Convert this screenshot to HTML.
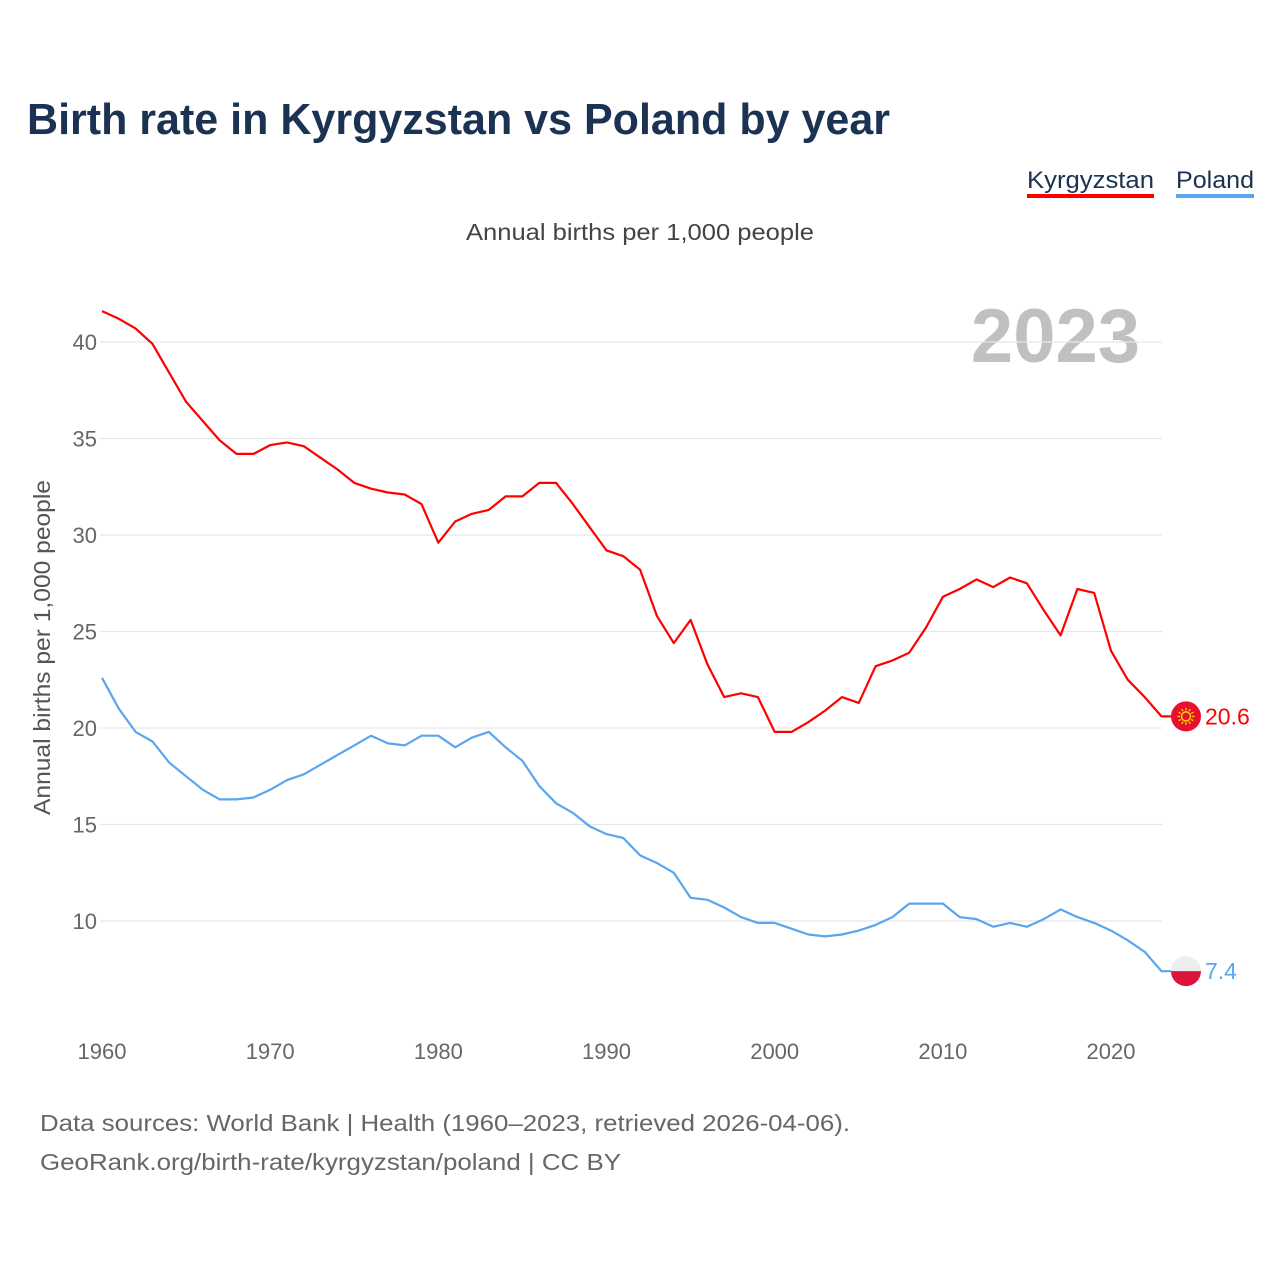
<!DOCTYPE html>
<html><head><meta charset="utf-8"><style>
body{margin:0;background:#fff;font-family:"Liberation Sans",sans-serif;}
</style></head><body>
<svg id="chart" width="1280" height="1280" xmlns="http://www.w3.org/2000/svg" style="display:block">
<rect width="1280" height="1280" fill="#fff"/>
<text x="27" y="134" font-size="44" font-weight="bold" fill="#1b3252" textLength="863" lengthAdjust="spacingAndGlyphs">Birth rate in Kyrgyzstan vs Poland by year</text>
<g><text x="1027" y="188" font-size="24" fill="#1b3252" textLength="127" lengthAdjust="spacingAndGlyphs">Kyrgyzstan</text><rect x="1027" y="194" width="127" height="4" fill="#ff0000"/></g>
<g><text x="1176" y="188" font-size="24" fill="#1b3252" textLength="78" lengthAdjust="spacingAndGlyphs">Poland</text><rect x="1176" y="194" width="78" height="4" fill="#5aa6ee"/></g>
<text x="466" y="240" font-size="23" fill="#444" textLength="348" lengthAdjust="spacingAndGlyphs">Annual births per 1,000 people</text>
<text x="1140" y="362" font-size="76" font-weight="bold" fill="#c0c0c0" text-anchor="end">2023</text>
<text transform="translate(50,815) rotate(-90)" font-size="23" fill="#555" textLength="335" lengthAdjust="spacingAndGlyphs">Annual births per 1,000 people</text>
<g id="grid"></g><g id="series"></g>
<text x="40" y="1131" font-size="23" fill="#666" textLength="810" lengthAdjust="spacingAndGlyphs">Data sources: World Bank | Health (1960–2023, retrieved 2026-04-06).</text>
<text x="40" y="1170" font-size="23" fill="#666" textLength="581" lengthAdjust="spacingAndGlyphs">GeoRank.org/birth-rate/kyrgyzstan/poland | CC BY</text>
</svg>
<script>
const years=[];for(let y=1960;y<=2023;y++)years.push(y);
const kyrgyzstan=[41.6,41.2,40.7,39.9,38.4,36.9,35.9,34.9,34.2,34.2,34.66,34.8,34.6,34.0,33.4,32.7,32.4,32.2,32.1,31.6,29.6,30.7,31.1,31.3,32.0,32.0,32.7,32.7,31.6,30.4,29.2,28.9,28.2,25.8,24.4,25.6,23.3,21.6,21.8,21.6,19.8,19.8,20.3,20.9,21.6,21.3,23.2,23.5,23.9,25.2,26.8,27.2,27.7,27.3,27.8,27.5,26.1,24.8,27.2,27.0,24.0,22.5,21.6,20.6];
const poland=[22.6,21.0,19.8,19.3,18.2,17.5,16.8,16.3,16.3,16.4,16.8,17.3,17.6,18.1,18.6,19.1,19.6,19.2,19.1,19.6,19.6,19.0,19.5,19.8,19.0,18.3,17.0,16.1,15.6,14.9,14.5,14.3,13.4,13.0,12.5,11.2,11.1,10.7,10.2,9.9,9.9,9.6,9.3,9.2,9.3,9.5,9.8,10.2,10.9,10.9,10.9,10.2,10.1,9.7,9.9,9.7,10.1,10.6,10.2,9.9,9.5,9.0,8.4,7.4];
const yTicks=[10,15,20,25,30,35,40];
const xTicks=[1960,1970,1980,1990,2000,2010,2020];
const NS="http://www.w3.org/2000/svg";
const xs=y=>102+(y-1960)*16.817;
const ys=v=>1114-v*19.3;
function mk(tag,attrs,parent){const e=document.createElementNS(NS,tag);for(const k in attrs)e.setAttribute(k,attrs[k]);parent.appendChild(e);return e;}
const grid=document.getElementById('grid'),ser=document.getElementById('series');
yTicks.forEach(t=>{
 const l=mk('line',{x1:100,x2:1162,y1:ys(t),y2:ys(t),stroke:'#e6e6e6','stroke-width':1.3},grid);
 
 
 const tx=mk('text',{x:97,y:ys(t)+8,'font-size':22,fill:'#666','text-anchor':'end'},grid);tx.textContent=t;
 
 
});
xTicks.forEach(t=>{
 const tx=mk('text',{x:xs(t),y:1059,'font-size':22,fill:'#666','text-anchor':'middle'},grid);tx.textContent=t;
 
 
});
function line(vals,color,name){
 let d=vals.map((v,i)=>(i?'L':'M')+xs(years[i]).toFixed(1)+','+ys(v).toFixed(1)).join('');
 d+='L1172,'+ys(vals[vals.length-1]).toFixed(1);
 const p=mk('path',{d:d,fill:'none',stroke:color,'stroke-width':2.2,'stroke-linejoin':'round'},ser);
 
 
 const lab=mk('text',{x:1205,y:ys(vals[vals.length-1])+8,'font-size':23,fill:color},ser);lab.textContent=vals[vals.length-1];
 
 
}
line(kyrgyzstan,'#ff0000','kyrgyzstan');
line(poland,'#5aa6ee','poland');
const ky=ys(kyrgyzstan[kyrgyzstan.length-1]);
const fk=mk('g',{},ser);


mk('circle',{cx:1186,cy:ky,r:15,fill:'#e8112d'},fk);
mk('circle',{cx:1186,cy:ky,r:4.5,fill:'none',stroke:'#ffd700','stroke-width':1.5},fk);
for(let a=0;a<12;a++){const r=Math.PI*2*a/12;mk('line',{x1:1186+6*Math.cos(r),y1:ky+6*Math.sin(r),x2:1186+8.5*Math.cos(r),y2:ky+8.5*Math.sin(r),stroke:'#ffd700','stroke-width':1.3},fk);}
const py=ys(poland[poland.length-1]);
const fp=mk('g',{},ser);


mk('path',{d:`M1171,${py} A15,15 0 0 1 1201,${py} Z`,fill:'#eeeeee'},fp);
mk('path',{d:`M1171,${py} A15,15 0 0 0 1201,${py} Z`,fill:'#dc143c'},fp);
</script>
</body></html>
